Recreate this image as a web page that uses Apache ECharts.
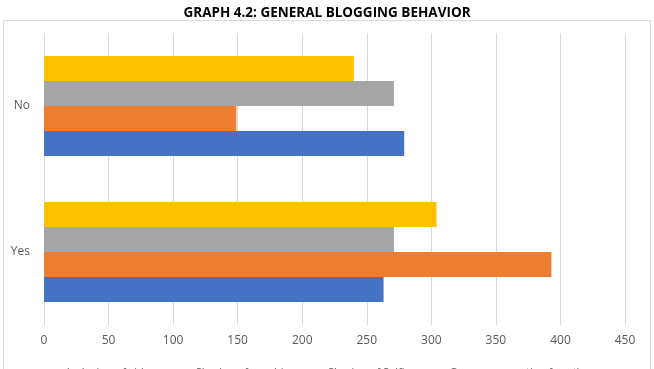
<!DOCTYPE html>
<html><head><meta charset="utf-8">
<script src="https://cdn.jsdelivr.net/npm/echarts@6/dist/echarts.min.js"></script>
<style>html,body{margin:0;padding:0;background:#fff}#c{width:654px;height:369px}</style>
</head><body><div id="c"></div>
<script>
const categories = ['Yes', 'No'];
const seriesNames = ['Inclusion of videos', 'Sharing of graphics', 'Sharing of Selfies', 'Open commenting for others'];
const seriesBlue = [263, 279];
const seriesOrange = [393, 149];
const seriesGray = [271, 271];
const seriesYellow = [304, 240];
const xTicks = [0, 450, 50];
const colors = ['#4472C4', '#ED7D31', '#A5A5A5', '#FFC000'];
const values = [seriesBlue, seriesOrange, seriesGray, seriesYellow];

// draw order reversed so the first series sits at the bottom of each band
const order = [3, 2, 1, 0];
const chart = echarts.init(document.getElementById('c'));
chart.setOption({
  animation: false,
  title: { text: 'GRAPH 4.2: GENERAL BLOGGING BEHAVIOR', left: 'center', top: 1,
    textStyle: { fontFamily: 'Open Sans', fontWeight: 'bold', fontSize: 13.5, color: '#000' } },
  graphic: [{ type: 'rect', shape: { x: 3.5, y: 20.5, width: 647, height: 360 }, style: { fill: 'none', stroke: '#d9d9d9', lineWidth: 1 }, silent: true }],
  legend: { data: seriesNames, bottom: -14, left: 'center', itemWidth: 7, itemHeight: 7, itemGap: 22,
    textStyle: { fontFamily: 'Open Sans', fontSize: 11, color: '#595959' } },
  grid: { left: 44, right: 29, top: 33, bottom: 44 },
  xAxis: { type: 'value', min: xTicks[0], max: xTicks[1], interval: xTicks[2],
    axisLine: { show: false }, axisTick: { show: false },
    splitLine: { lineStyle: { color: '#d9d9d9' } },
    axisLabel: { color: '#595959', fontFamily: 'Open Sans', fontSize: 12, margin: 10 } },
  yAxis: { type: 'category', data: categories,
    axisLine: { show: false }, axisTick: { show: false },
    axisLabel: { color: '#595959', fontFamily: 'Open Sans', fontSize: 12, margin: 14 } },
  series: order.map(i => ({ name: seriesNames[i], type: 'bar', data: values[i], barGap: '0%', barCategoryGap: '31.5%',
    itemStyle: { color: colors[i] } }))
});
</script></body></html>
